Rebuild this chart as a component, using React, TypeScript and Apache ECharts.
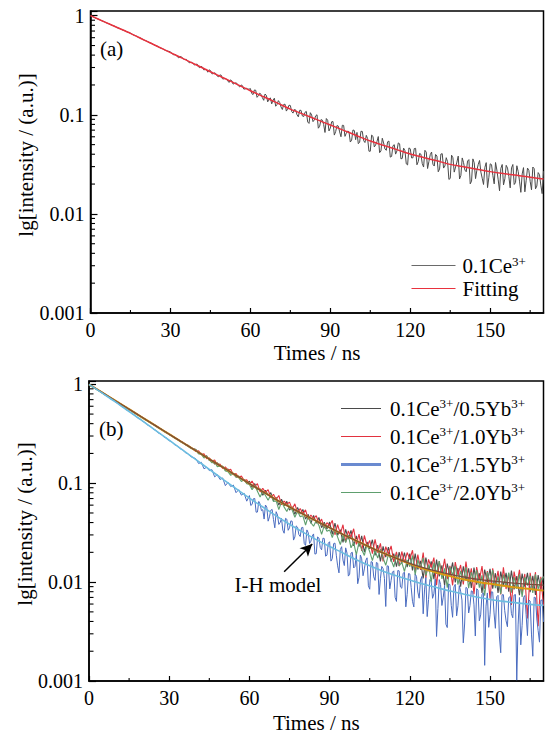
import { useEffect, useRef } from 'react';
import * as echarts from 'echarts';

const FONT = 'Liberation Serif, Times New Roman, serif';

// sampling grids: measured decays (1 ns steps, plus half-ns samples where the noise is dense) and fitted curves (5 ns steps)
const TIME_NS = Array.from({ length: 171 }, (_, i) => i);
const HALF_TIME_A = Array.from({ length: 130 }, (_, i) => 40.5 + i);
const HALF_TIME_B = Array.from({ length: 110 }, (_, i) => 60.5 + i);
const FIT_TIME_NS = [0, 5, 10, 15, 20, 25, 30, 35, 40, 45, 50, 55, 60, 65, 70, 75, 80, 85, 90, 95, 100, 105, 110, 115, 120, 125, 130, 135, 140, 145, 150, 155, 160, 165, 170];

const X_MINOR_TICKS = [15, 45, 75, 105, 135, 165];
const Y_MINOR_TICKS = [0.002, 0.003, 0.004, 0.005, 0.006, 0.007, 0.008, 0.009, 0.02, 0.03, 0.04, 0.05, 0.06, 0.07, 0.08, 0.09, 0.2, 0.3, 0.4, 0.5, 0.6, 0.7, 0.8, 0.9];

// ---------- panel (a) ----------
const A_NAMES = ['0.1Ce3+', 'Fitting'];
const A_DATA = [
  1.00, 0.975, 0.944, 0.923, 0.894, 0.874, 0.846, 0.827, 0.800, 0.785,
  0.758, 0.743, 0.717, 0.703, 0.680, 0.666, 0.641, 0.627, 0.604, 0.592,
  0.568, 0.556, 0.536, 0.524, 0.505, 0.494, 0.475, 0.465, 0.448, 0.439,
  0.432, 0.404, 0.404, 0.376, 0.388, 0.362, 0.362, 0.335, 0.338, 0.319,
  0.325, 0.298, 0.303, 0.286, 0.269, 0.280, 0.259, 0.261, 0.242, 0.252,
  0.230, 0.230, 0.212, 0.221, 0.207, 0.207, 0.191, 0.197, 0.182, 0.182,
  0.184, 0.160, 0.177, 0.156, 0.161, 0.140, 0.157, 0.144, 0.129, 0.147,
  0.127, 0.133, 0.113, 0.128, 0.115, 0.124, 0.104, 0.112, 0.0954, 0.111,
  0.0960, 0.108, 0.0818, 0.0994, 0.0888, 0.100, 0.0766, 0.0883, 0.0663, 0.0881,
  0.0734, 0.0855, 0.0676, 0.0769, 0.0600, 0.0781, 0.0653, 0.0676, 0.0556, 0.0694,
  0.0664, 0.0528, 0.0679, 0.0525, 0.0574, 0.0429, 0.0606, 0.0495, 0.0603, 0.0431,
  0.0520, 0.0438, 0.0543, 0.0380, 0.0499, 0.0432, 0.0510, 0.0363, 0.0436, 0.0312,
  0.0454, 0.0368, 0.0459, 0.0337, 0.0400, 0.0297, 0.0420, 0.0338, 0.0421, 0.0304,
  0.0384, 0.0284, 0.0405, 0.0304, 0.0337, 0.0228, 0.0369, 0.0297, 0.0383, 0.0245,
  0.0329, 0.0266, 0.0353, 0.0214, 0.0328, 0.0276, 0.0346, 0.0229, 0.0295, 0.0184,
  0.0320, 0.0244, 0.0330, 0.0221, 0.0288, 0.0196, 0.0309, 0.0238, 0.0291, 0.0198,
  0.0306, 0.0214, 0.0253, 0.0167, 0.0290, 0.0213, 0.0297, 0.0179, 0.0261, 0.0195,
  0.0270,
];
// samples at 40.5, 41.5, ... 169.5 ns
const A_DATA_HALF = [
  0.305, 0.308, 0.284, 0.287, 0.284, 0.260, 0.265, 0.247, 0.252, 0.231,
  0.233, 0.220, 0.225, 0.204, 0.210, 0.196, 0.200, 0.182, 0.185, 0.181,
  0.164, 0.178, 0.150, 0.165, 0.149, 0.162, 0.135, 0.148, 0.140, 0.122,
  0.139, 0.120, 0.127, 0.109, 0.125, 0.108, 0.113, 0.100, 0.111, 0.0974,
  0.106, 0.0847, 0.105, 0.0853, 0.0976, 0.0732, 0.0894, 0.0797, 0.0917, 0.0687,
  0.0850, 0.0624, 0.0779, 0.0672, 0.0784, 0.0606, 0.0685, 0.0531, 0.0703, 0.0561,
  0.0511, 0.0682, 0.0549, 0.0620, 0.0429, 0.0624, 0.0474, 0.0537, 0.0415, 0.0580,
  0.0452, 0.0534, 0.0374, 0.0487, 0.0401, 0.0520, 0.0359, 0.0461, 0.0320, 0.0463,
  0.0367, 0.0456, 0.0313, 0.0407, 0.0322, 0.0438, 0.0287, 0.0396, 0.0317, 0.0398,
  0.0266, 0.0402, 0.0290, 0.0369, 0.0223, 0.0391, 0.0264, 0.0333, 0.0225, 0.0367,
  0.0277, 0.0341, 0.0201, 0.0359, 0.0227, 0.0315, 0.0264, 0.0198, 0.0329, 0.0234,
  0.0314, 0.0201, 0.0277, 0.0171, 0.0315, 0.0226, 0.0290, 0.0183, 0.0315, 0.0207,
  0.0268, 0.0165, 0.0293, 0.0218, 0.0275, 0.0175, 0.0286, 0.0191, 0.0249, 0.0160,
];
const A_FIT = [
  1.00, 0.872, 0.761, 0.664, 0.571, 0.492, 0.424, 0.366, 0.316, 0.272,
  0.235, 0.203, 0.175, 0.152, 0.132, 0.114, 0.101, 0.0893, 0.0789, 0.0697,
  0.0615, 0.0543, 0.0491, 0.0445, 0.0402, 0.0371, 0.0343, 0.0316, 0.0299, 0.0282,
  0.0267, 0.0255, 0.0245, 0.0234, 0.0225,
];

// ---------- panel (b) ----------
const B_NAMES = ['0.1Ce3+/0.5Yb3+', '0.1Ce3+/1.0Yb3+', '0.1Ce3+/1.5Yb3+', '0.1Ce3+/2.0Yb3+'];
const B_05 = [
  1.00, 0.965, 0.922, 0.893, 0.854, 0.827, 0.789, 0.765, 0.730, 0.709,
  0.676, 0.656, 0.625, 0.608, 0.579, 0.563, 0.536, 0.521, 0.495, 0.482,
  0.458, 0.446, 0.424, 0.413, 0.392, 0.383, 0.362, 0.354, 0.335, 0.328,
  0.310, 0.304, 0.287, 0.282, 0.265, 0.261, 0.245, 0.242, 0.227, 0.224,
  0.219, 0.199, 0.201, 0.185, 0.189, 0.170, 0.170, 0.156, 0.161, 0.149,
  0.148, 0.135, 0.139, 0.126, 0.125, 0.115, 0.118, 0.109, 0.109, 0.0999,
  0.105, 0.0906, 0.0991, 0.0857, 0.0878, 0.0756, 0.0847, 0.0755, 0.0801, 0.0666,
  0.0718, 0.0601, 0.0688, 0.0591, 0.0655, 0.0535, 0.0578, 0.0484, 0.0568, 0.0489,
  0.0542, 0.0434, 0.0484, 0.0393, 0.0471, 0.0394, 0.0450, 0.0355, 0.0404, 0.0344,
  0.0405, 0.0303, 0.0394, 0.0298, 0.0339, 0.0252, 0.0342, 0.0272, 0.0334, 0.0232,
  0.0293, 0.0229, 0.0293, 0.0201, 0.0255, 0.0217, 0.0268, 0.0186, 0.0237, 0.0162,
  0.0230, 0.0179, 0.0226, 0.0161, 0.0194, 0.0143, 0.0201, 0.0156, 0.0199, 0.0142,
  0.0194, 0.0131, 0.0194, 0.0134, 0.0164, 0.0109, 0.0177, 0.0129, 0.0162, 0.0107,
  0.0169, 0.0114, 0.0148, 0.00923, 0.0154, 0.0116, 0.0158, 0.00995, 0.0139, 0.00901,
  0.0144, 0.0104, 0.0138, 0.00872, 0.0140, 0.00942, 0.0123, 0.00777, 0.0134, 0.00998,
  0.0136, 0.00857, 0.0123, 0.00778, 0.0128, 0.00910, 0.0124, 0.00802, 0.0131, 0.00844,
  0.0115, 0.00737, 0.0122, 0.00902, 0.0124, 0.00789, 0.0116, 0.00743, 0.0118, 0.00837,
  0.0115,
];
const B_10 = [
  0.990, 0.958, 0.928, 0.886, 0.860, 0.820, 0.795, 0.758, 0.736, 0.702,
  0.682, 0.650, 0.631, 0.602, 0.585, 0.557, 0.542, 0.515, 0.501, 0.477,
  0.464, 0.441, 0.429, 0.408, 0.397, 0.378, 0.367, 0.349, 0.340, 0.323,
  0.315, 0.300, 0.292, 0.278, 0.270, 0.257, 0.250, 0.238, 0.232, 0.220,
  0.209, 0.213, 0.195, 0.198, 0.177, 0.180, 0.168, 0.172, 0.153, 0.156,
  0.141, 0.146, 0.135, 0.138, 0.122, 0.125, 0.114, 0.118, 0.107, 0.108,
  0.0981, 0.105, 0.0927, 0.0990, 0.0818, 0.0888, 0.0808, 0.0862, 0.0713, 0.0773,
  0.0684, 0.0752, 0.0605, 0.0659, 0.0613, 0.0644, 0.0545, 0.0619, 0.0500, 0.0554,
  0.0493, 0.0538, 0.0430, 0.0477, 0.0437, 0.0469, 0.0390, 0.0433, 0.0352, 0.0399,
  0.0373, 0.0420, 0.0301, 0.0382, 0.0308, 0.0380, 0.0254, 0.0329, 0.0284, 0.0346,
  0.0241, 0.0305, 0.0207, 0.0296, 0.0232, 0.0264, 0.0194, 0.0270, 0.0198, 0.0246,
  0.0162, 0.0228, 0.0193, 0.0232, 0.0160, 0.0202, 0.0145, 0.0204, 0.0157, 0.0199,
  0.0171, 0.0210, 0.0127, 0.0190, 0.0133, 0.0199, 0.0110, 0.0170, 0.0140, 0.0177,
  0.00929, 0.0163, 0.0120, 0.0172, 0.0107, 0.0146, 0.00928, 0.0159, 0.0118, 0.0149,
  0.00949, 0.0161, 0.00999, 0.0138, 0.00756, 0.0142, 0.0104, 0.0145, 0.00853, 0.0129,
  0.00680, 0.0138, 0.00938, 0.0130, 0.00750, 0.0141, 0.00851, 0.0122, 0.00588, 0.0128,
  0.00922, 0.0133, 0.00768, 0.0121, 0.00428, 0.0124, 0.00836, 0.0126, 0.00357, 0.0113,
  0.00577,
];
const B_15 = [
  1.00, 0.962, 0.917, 0.886, 0.844, 0.816, 0.777, 0.751, 0.715, 0.692,
  0.658, 0.636, 0.602, 0.583, 0.552, 0.534, 0.505, 0.489, 0.462, 0.449,
  0.424, 0.410, 0.386, 0.375, 0.353, 0.342, 0.322, 0.313, 0.294, 0.286,
  0.269, 0.262, 0.245, 0.239, 0.224, 0.218, 0.204, 0.199, 0.186, 0.182,
  0.176, 0.158, 0.163, 0.140, 0.145, 0.134, 0.137, 0.116, 0.122, 0.109,
  0.113, 0.0945, 0.102, 0.0925, 0.0958, 0.0802, 0.0859, 0.0757, 0.0794, 0.0658,
  0.0750, 0.0610, 0.0701, 0.0511, 0.0616, 0.0540, 0.0602, 0.0413, 0.0533, 0.0429,
  0.0515, 0.0383, 0.0441, 0.0312, 0.0432, 0.0354, 0.0412, 0.0286, 0.0359, 0.0289,
  0.0358, 0.0235, 0.0316, 0.0259, 0.0307, 0.0194, 0.0279, 0.0212, 0.0276, 0.0187,
  0.0256, 0.0173, 0.0248, 0.0146, 0.0213, 0.0167, 0.0222, 0.0115, 0.0197, 0.0139,
  0.0192, 0.0112, 0.0172, 0.0136, 0.0176, 0.00847, 0.0159, 0.0104, 0.0155, 0.0108,
  0.0137, 0.00567, 0.0145, 0.0104, 0.0130, 0.00638, 0.0130, 0.00866, 0.0126, 0.00749,
  0.0121, 0.00639, 0.0121, 0.00792, 0.0105, 0.00478, 0.0111, 0.00666, 0.0102, 0.00762,
  0.00282, 0.0106, 0.00580, 0.00924, 0.00347, 0.00943, 0.00441, 0.00949, 0.00577, 0.00809,
  0.00243, 0.00884, 0.00487, 0.00815, 0.00589, 0.00857, 0.00406, 0.00754, 0.00144, 0.00777,
  0.00468, 0.00794, 0.00341, 0.00735, 0.00193, 0.00746, 0.00406, 0.00693, 0.00481, 0.00739,
  0.00102, 0.00699, 0.00365, 0.00731, 0.00288, 0.00644, 0.00178, 0.00696, 0.00323, 0.00655,
  0.00396,
];
// samples at 60.5, 61.5, ... 169.5 ns
const B_15_HALF = [
  0.0596, 0.0697, 0.0509, 0.0654, 0.0528, 0.0434, 0.0573, 0.0457, 0.0543, 0.0354,
  0.0477, 0.0401, 0.0335, 0.0441, 0.0334, 0.0416, 0.0266, 0.0370, 0.0302, 0.0355,
  0.0246, 0.0337, 0.0246, 0.0293, 0.0192, 0.0286, 0.0224, 0.0278, 0.0183, 0.0247,
  0.0163, 0.0245, 0.0187, 0.0124, 0.0228, 0.0147, 0.0197, 0.0120, 0.0200, 0.0144,
  0.00963, 0.0188, 0.0116, 0.0165, 0.00918, 0.0161, 0.0113, 0.0158, 0.00750, 0.0144,
  0.0109, 0.0146, 0.00854, 0.0126, 0.00702, 0.0131, 0.00893, 0.0123, 0.00562, 0.0122,
  0.00884, 0.00561, 0.0114, 0.00687, 0.0114, 0.00834, 0.00448, 0.0106, 0.00686, 0.0107,
  0.00542, 0.00946, 0.00703, 0.00375, 0.00959, 0.00582, 0.00893, 0.00456, 0.00922, 0.00658,
  0.00377, 0.00863, 0.00579, 0.00803, 0.00285, 0.00831, 0.00466, 0.00777, 0.00571, 0.00349,
  0.00798, 0.00488, 0.00712, 0.00285, 0.00744, 0.00515, 0.00354, 0.00716, 0.00436, 0.00749,
  0.00369, 0.00232, 0.00698, 0.00470, 0.00658, 0.00298, 0.00704, 0.00424, 0.00247, 0.00660,
];
const B_20 = [
  0.980, 0.950, 0.916, 0.882, 0.850, 0.818, 0.786, 0.756, 0.727, 0.700,
  0.673, 0.647, 0.622, 0.599, 0.577, 0.555, 0.534, 0.513, 0.494, 0.475,
  0.457, 0.439, 0.423, 0.406, 0.391, 0.376, 0.362, 0.348, 0.334, 0.322,
  0.310, 0.298, 0.287, 0.276, 0.265, 0.255, 0.246, 0.236, 0.227, 0.219,
  0.215, 0.199, 0.195, 0.180, 0.186, 0.172, 0.161, 0.164, 0.147, 0.149,
  0.148, 0.133, 0.131, 0.120, 0.125, 0.116, 0.114, 0.104, 0.109, 0.0989,
  0.0971, 0.0859, 0.0946, 0.0831, 0.0724, 0.0830, 0.0752, 0.0671, 0.0764, 0.0652,
  0.0663, 0.0541, 0.0650, 0.0573, 0.0518, 0.0592, 0.0534, 0.0452, 0.0521, 0.0459,
  0.0468, 0.0378, 0.0466, 0.0398, 0.0368, 0.0419, 0.0374, 0.0304, 0.0374, 0.0326,
  0.0337, 0.0282, 0.0344, 0.0285, 0.0239, 0.0298, 0.0251, 0.0300, 0.0222, 0.0251,
  0.0189, 0.0254, 0.0214, 0.0186, 0.0241, 0.0203, 0.0165, 0.0208, 0.0175, 0.0215,
  0.0175, 0.0148, 0.0191, 0.0168, 0.0142, 0.0188, 0.0146, 0.0158, 0.0128, 0.0167,
  0.0143, 0.0185, 0.0119, 0.0168, 0.0139, 0.0176, 0.0116, 0.0150, 0.00998, 0.0157,
  0.0121, 0.0163, 0.0108, 0.0138, 0.00878, 0.0142, 0.0118, 0.0146, 0.00940, 0.0130,
  0.0102, 0.0142, 0.00866, 0.0126, 0.0103, 0.0132, 0.00880, 0.0117, 0.00728, 0.0126,
  0.00989, 0.0132, 0.00867, 0.0114, 0.00760, 0.0119, 0.00921, 0.0125, 0.00784, 0.0112,
  0.00854, 0.0120, 0.00710, 0.0112, 0.00922, 0.0116, 0.00779, 0.0120, 0.00846, 0.0106,
  0.0112,
];
// I-H model fits
const B_FIT_BROWN = [
  1.00, 0.824, 0.679, 0.560, 0.461, 0.380, 0.313, 0.258, 0.213, 0.175,
  0.145, 0.120, 0.0991, 0.0822, 0.0684, 0.0575, 0.0488, 0.0415, 0.0355, 0.0304,
  0.0262, 0.0226, 0.0197, 0.0174, 0.0155, 0.0140, 0.0129, 0.0120, 0.0113, 0.0107,
  0.0103, 0.0100, 0.0097, 0.0095, 0.0093,
];
const B_FIT_ORANGE = [
  1.00, 0.824, 0.679, 0.560, 0.461, 0.380, 0.313, 0.258, 0.213, 0.175,
  0.145, 0.120, 0.0991, 0.0822, 0.0684, 0.0575, 0.0488, 0.0415, 0.0355, 0.0304,
  0.0262, 0.0226, 0.0197, 0.0174, 0.0153, 0.0137, 0.0125, 0.0115, 0.0107, 0.0101,
  0.0096, 0.0092, 0.0088, 0.0085, 0.0082,
];
const B_FIT_CYAN = [
  1.00, 0.813, 0.661, 0.531, 0.427, 0.340, 0.272, 0.217, 0.173, 0.138,
  0.110, 0.0881, 0.0708, 0.0575, 0.0468, 0.0385, 0.0320, 0.0269, 0.0229, 0.0197,
  0.0168, 0.0146, 0.0129, 0.0116, 0.0105, 0.00955, 0.00881, 0.00813, 0.00759, 0.00708,
  0.00668, 0.00638, 0.00617, 0.00596, 0.00582,
];
const ARROW_FROM = [73, 0.0127];
const ARROW_TO = [83.5, 0.0243];

const zip = (xs: number[], ys: number[]) => xs.map((x, i) => [x, ys[i]]);
const merged = (xs1: number[], ys1: number[], xs2: number[], ys2: number[]) =>
  [...zip(xs1, ys1), ...zip(xs2, ys2)].sort((a, b) => a[0] - b[0]);

const supFormatter = (name: string) => name.split('3+').join('{sup|3+}');

const logLabel = (v: number) => {
  const l = Math.log10(v);
  if (Math.abs(l - Math.round(l)) > 1e-6) return '';
  return String(+v.toPrecision(1));
};

const THIN_ICON = 'path://M0,0H44V1.2H0Z';
const THICK_ICON = 'path://M0,0H40V2.8H0Z';

export default function App() {
  const ref = useRef<HTMLDivElement>(null);

  useEffect(() => {
    if (!ref.current) return;
    const chart = echarts.init(ref.current, null, { renderer: 'svg' });

    const grids = [
      { left: 90.5, top: 11, width: 453, height: 302 },
      { left: 89, top: 381, width: 454.5, height: 300 },
    ];
    const yMax = [1.115, 1.08];

    const xAxis = grids.map((_, i) => ({
      gridIndex: i,
      type: 'value',
      min: 0,
      max: 170,
      interval: 30,
      name: 'Times / ns',
      nameLocation: 'middle',
      nameGap: i === 0 ? 29 : 31,
      nameMoveOverlap: false,
      nameTextStyle: { fontFamily: FONT, fontSize: 21, color: '#000' },
      axisLine: { onZero: false, lineStyle: { color: '#000', width: 1.5 } },
      axisTick: { inside: true, length: 5, lineStyle: { color: '#000', width: 1.2 } },
      axisLabel: { color: '#000', fontFamily: FONT, fontSize: 20, margin: 7, showMaxLabel: false },
      splitLine: { show: false },
    }));

    const yAxis = grids.map((_, i) => ({
      gridIndex: i,
      type: 'log',
      logBase: 10,
      min: 0.001,
      max: yMax[i],
      name: 'lg[intensity / (a.u.)]',
      nameLocation: 'middle',
      nameGap: 54,
      nameMoveOverlap: false,
      nameTextStyle: { fontFamily: FONT, fontSize: 21, color: '#000', padding: [0, 0, 0, 14] },
      axisLine: { lineStyle: { color: '#000', width: 1.5 } },
      axisTick: { inside: true, length: 7, lineStyle: { color: '#000', width: 1.2 } },
      axisLabel: { color: '#000', fontFamily: FONT, fontSize: 20, margin: 6, formatter: logLabel },
      splitLine: { show: false },
    }));

    const lineOf = (name: string, idx: number, data: number[][], color: string, width: number, z: number, smooth = 0) => ({
      type: 'line',
      name,
      xAxisIndex: idx,
      yAxisIndex: idx,
      data,
      symbol: 'none',
      showSymbol: false,
      smooth,
      silent: true,
      z,
      lineStyle: { color, width },
      itemStyle: { color },
      emphasis: { disabled: true },
    });

    const minorY = (idx: number) => ({
      type: 'custom',
      xAxisIndex: idx,
      yAxisIndex: idx,
      silent: true,
      z: 10,
      data: Y_MINOR_TICKS.map((v) => [0, v]),
      renderItem: (_p: any, api: any) => {
        const p = api.coord([api.value(0), api.value(1)]);
        return {
          type: 'line',
          shape: { x1: p[0], y1: p[1], x2: p[0] + 4.5, y2: p[1] },
          style: { stroke: '#000', lineWidth: 1.1 },
        };
      },
    });
    const minorX = (idx: number) => ({
      type: 'custom',
      xAxisIndex: idx,
      yAxisIndex: idx,
      silent: true,
      z: 10,
      data: X_MINOR_TICKS.map((v) => [v, 0.001]),
      renderItem: (_p: any, api: any) => {
        const p = api.coord([api.value(0), api.value(1)]);
        return {
          type: 'line',
          shape: { x1: p[0], y1: p[1], x2: p[0], y2: p[1] - 3 },
          style: { stroke: '#000', lineWidth: 1.1 },
        };
      },
    });

    const cyanFit: any = lineOf('fit-1.5', 1, zip(FIT_TIME_NS, B_FIT_CYAN), '#6cbde0', 1.6, 6, 0.3);
    cyanFit.markLine = {
      silent: true,
      symbol: ['none', 'arrow'],
      symbolSize: [9, 12],
      label: { show: false },
      lineStyle: { color: '#000', width: 1.5, type: 'solid' },
      emphasis: { disabled: true },
      data: [[{ coord: ARROW_FROM }, { coord: ARROW_TO }]],
    };

    const legendText = (lh: number, supLh: number, pad: number) => ({
      fontFamily: FONT,
      fontSize: 21,
      color: '#000',
      lineHeight: lh,
      padding: [0, 0, 0, pad],
      rich: {
        sup: { fontFamily: FONT, fontSize: 13, color: '#000', verticalAlign: 'top', lineHeight: supLh },
      },
    });

    const option: any = {
      animation: false,
      backgroundColor: '#ffffff',
      textStyle: { fontFamily: FONT, color: '#000' },
      grid: grids.map((g) => ({ ...g, show: true, borderColor: '#000', borderWidth: 1.5, backgroundColor: 'transparent' })),
      xAxis,
      yAxis,
      legend: [
        {
          orient: 'vertical',
          left: 411.5,
          top: 254.5,
          padding: 0,
          itemWidth: 44,
          itemHeight: 14,
          itemGap: 1,
          selectedMode: false,
          symbolKeepAspect: true,
          data: [
            { name: A_NAMES[0], icon: THIN_ICON, itemStyle: { color: '#6a6a6a' } },
            { name: A_NAMES[1], icon: THIN_ICON },
          ],
          formatter: supFormatter,
          textStyle: legendText(22, 17, 2),
        },
        {
          orient: 'vertical',
          left: 341,
          top: 396.5,
          padding: 0,
          itemWidth: 40,
          itemHeight: 14,
          itemGap: 4,
          selectedMode: false,
          symbolKeepAspect: true,
          data: [
            { name: B_NAMES[0], icon: THIN_ICON },
            { name: B_NAMES[1], icon: THIN_ICON },
            { name: B_NAMES[2], icon: THICK_ICON, itemStyle: { color: '#6a8ad0' } },
            { name: B_NAMES[3], icon: THIN_ICON },
          ],
          formatter: supFormatter,
          textStyle: legendText(24, 19, 4),
        },
      ],
      graphic: [
        { type: 'text', x: 100, y: 49, silent: true, style: { text: '(a)', fontFamily: FONT, fontSize: 21, fill: '#000', align: 'left', verticalAlign: 'middle' } },
        { type: 'text', x: 99, y: 429, silent: true, style: { text: '(b)', fontFamily: FONT, fontSize: 21, fill: '#000', align: 'left', verticalAlign: 'middle' } },
        { type: 'text', x: 278, y: 585, silent: true, style: { text: 'I-H model', fontFamily: FONT, fontSize: 21, fill: '#000', align: 'center', verticalAlign: 'middle' } },
      ],
      series: [
        lineOf(A_NAMES[0], 0, merged(TIME_NS, A_DATA, HALF_TIME_A, A_DATA_HALF), '#4a4a4a', 1, 2),
        lineOf(A_NAMES[1], 0, zip(FIT_TIME_NS, A_FIT), '#e8323e', 1.5, 4, 0.3),
        lineOf(B_NAMES[0], 1, zip(TIME_NS, B_05), '#4a4a4a', 1.1, 2),
        lineOf(B_NAMES[1], 1, zip(TIME_NS, B_10), '#e2323f', 1.1, 2),
        lineOf(B_NAMES[2], 1, merged(TIME_NS, B_15, HALF_TIME_B, B_15_HALF), '#4a6cc0', 1, 2),
        lineOf(B_NAMES[3], 1, zip(TIME_NS, B_20), '#5e9f6e', 1.1, 2),
        lineOf('fit-1.0', 1, zip(FIT_TIME_NS, B_FIT_ORANGE), '#d99a12', 2, 5, 0.3),
        lineOf('fit-0.5', 1, zip(FIT_TIME_NS, B_FIT_BROWN), '#7a4c3c', 1.3, 5, 0.3),
        cyanFit,
        minorY(0),
        minorX(0),
        minorY(1),
        minorX(1),
      ],
    };

    chart.setOption(option);
    return () => chart.dispose();
  }, []);

  return (
    <div
      ref={ref}
      style={{ position: 'fixed', left: 0, top: 0, width: 547, height: 734, background: '#fff' }}
    />
  );
}
